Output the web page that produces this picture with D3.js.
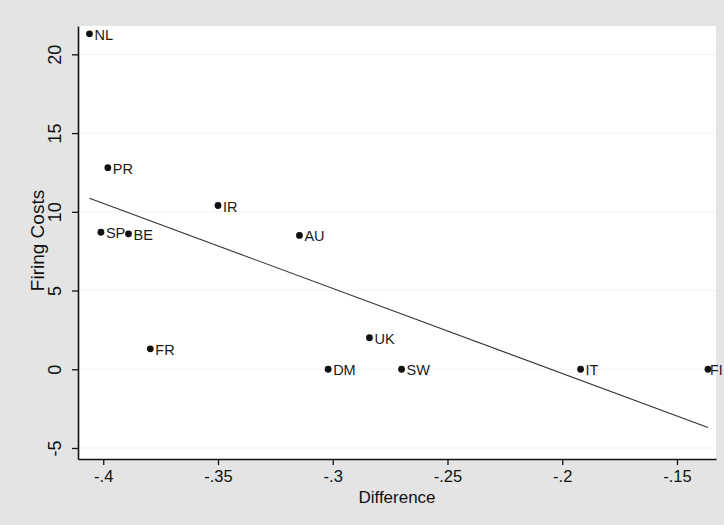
<!DOCTYPE html>
<html>
<head>
<meta charset="utf-8">
<script src="https://cdn.jsdelivr.net/npm/d3@7"></script>
<style>
  html, body { margin: 0; padding: 0; background: #e4e4e4; }
  svg { display: block; font-family: "Liberation Sans", Arial, sans-serif; }
</style>
</head>
<body>
<svg id="chart" width="724" height="525"></svg>
<script>
// ── Data ───────────────────────────────────────────────────────────────────
const countries   = ['NL', 'PR', 'SP', 'BE', 'IR', 'FR', 'AU', 'UK', 'DM', 'SW', 'IT', 'FI'];
const difference  = [-0.406, -0.398, -0.401, -0.389, -0.350, -0.3795, -0.3145, -0.284, -0.302, -0.270, -0.192, -0.1365];
const firingCosts = [21.3, 12.8, 8.7, 8.6, 10.4, 1.3, 8.5, 2.0, 0, 0, 0, 0];
const xTicks = [-0.4, -0.35, -0.3, -0.25, -0.2, -0.15];
const yTicks = [-5, 0, 5, 10, 15, 20];

const W = 724;
const plot = { left: 78, right: 716, top: 26, bottom: 459 };

const svg = d3.select('#chart');
const x = d3.scaleLinear().domain([-0.411, -0.133]).range([plot.left, plot.right]);
const y = d3.scaleLinear().domain([-5.7, 21.8]).range([plot.bottom, plot.top]);

// Stata style: hyphen minus, no leading zero
const fmt = v => String(+v.toFixed(2)).replace('0.', '.');

// plot region
svg.append('rect')
  .attr('x', plot.left).attr('y', plot.top)
  .attr('width', plot.right - plot.left).attr('height', plot.bottom - plot.top)
  .attr('fill', '#fff');

// faint gridlines
svg.append('g').selectAll('line').data(yTicks).join('line')
  .attr('x1', plot.left).attr('x2', plot.right)
  .attr('y1', d => y(d)).attr('y2', d => y(d))
  .attr('stroke', '#f3f3f3').attr('stroke-width', 1);

// ── Axes ───────────────────────────────────────────────────────────────────
const xAxis = svg.append('g')
  .attr('transform', `translate(0,${plot.bottom})`)
  .call(d3.axisBottom(x).tickValues(xTicks).tickSize(6).tickSizeOuter(0).tickFormat(fmt));
xAxis.select('.domain').attr('stroke', '#111').attr('stroke-width', 1.6);
xAxis.selectAll('.tick line').attr('stroke', '#111').attr('stroke-width', 1.3);
xAxis.selectAll('.tick text')
  .attr('y', 17).attr('dy', '0.35em')
  .attr('font-size', 16.5).attr('fill', '#111')
  .attr('font-family', '"Liberation Sans", Arial, sans-serif');

const yAxis = svg.append('g')
  .attr('transform', `translate(${plot.left},0)`)
  .call(d3.axisLeft(y).tickValues(yTicks).tickSize(6).tickSizeOuter(0).tickFormat(fmt));
yAxis.select('.domain').attr('stroke', '#111').attr('stroke-width', 1.6);
yAxis.selectAll('.tick line').attr('stroke', '#111').attr('stroke-width', 1.3);
yAxis.selectAll('.tick text')
  .attr('x', null)
  .attr('text-anchor', 'middle')
  .attr('transform', 'translate(-23,0) rotate(-90)')
  .attr('dy', '0.35em')
  .attr('font-size', 18).attr('fill', '#111')
  .attr('font-family', '"Liberation Sans", Arial, sans-serif');

// axis titles
svg.append('text')
  .attr('x', 397).attr('y', 497).attr('dy', '0.35em')
  .attr('text-anchor', 'middle').attr('font-size', 17).attr('fill', '#111')
  .text('Difference');
svg.append('text')
  .attr('transform', `translate(37,${(plot.top + plot.bottom) / 2 - 2}) rotate(-90)`)
  .attr('dy', '0.35em')
  .attr('text-anchor', 'middle').attr('font-size', 19).attr('fill', '#111')
  .text('Firing Costs');

// ── Fitted line (OLS on the points) ────────────────────────────────────────
const n = difference.length;
const mx = d3.mean(difference), my = d3.mean(firingCosts);
let sxy = 0, sxx = 0;
for (let i = 0; i < n; i++) {
  sxy += (difference[i] - mx) * (firingCosts[i] - my);
  sxx += (difference[i] - mx) ** 2;
}
const slope = sxy / sxx, icpt = my - slope * mx;
const [x0, x1] = d3.extent(difference);
svg.append('line')
  .attr('x1', x(x0)).attr('y1', y(icpt + slope * x0))
  .attr('x2', x(x1)).attr('y2', y(icpt + slope * x1))
  .attr('stroke', '#333').attr('stroke-width', 1.1);

// ── Points and labels ──────────────────────────────────────────────────────
const pts = countries.map((c, i) => ({ c, dx: difference[i], fc: firingCosts[i] }));
const g = svg.append('g');
g.selectAll('circle').data(pts).join('circle')
  .attr('cx', d => x(d.dx)).attr('cy', d => y(d.fc))
  .attr('r', 3.4).attr('fill', '#111');
g.selectAll('text').data(pts).join('text')
  .attr('x', d => x(d.dx) + 5).attr('y', d => y(d.fc) + 1)
  .attr('dy', '0.35em')
  .attr('font-size', 14.5).attr('fill', '#1a1a1a')
  .text(d => d.c)
  .each(function () {
    // keep the rightmost label (FI) inside the picture
    const t = d3.select(this);
    const over = +t.attr('x') + this.getComputedTextLength() - (W - 1);
    if (over > 0) t.attr('x', +t.attr('x') - over).attr('font-size', 14);
  });
</script>
</body>
</html>
